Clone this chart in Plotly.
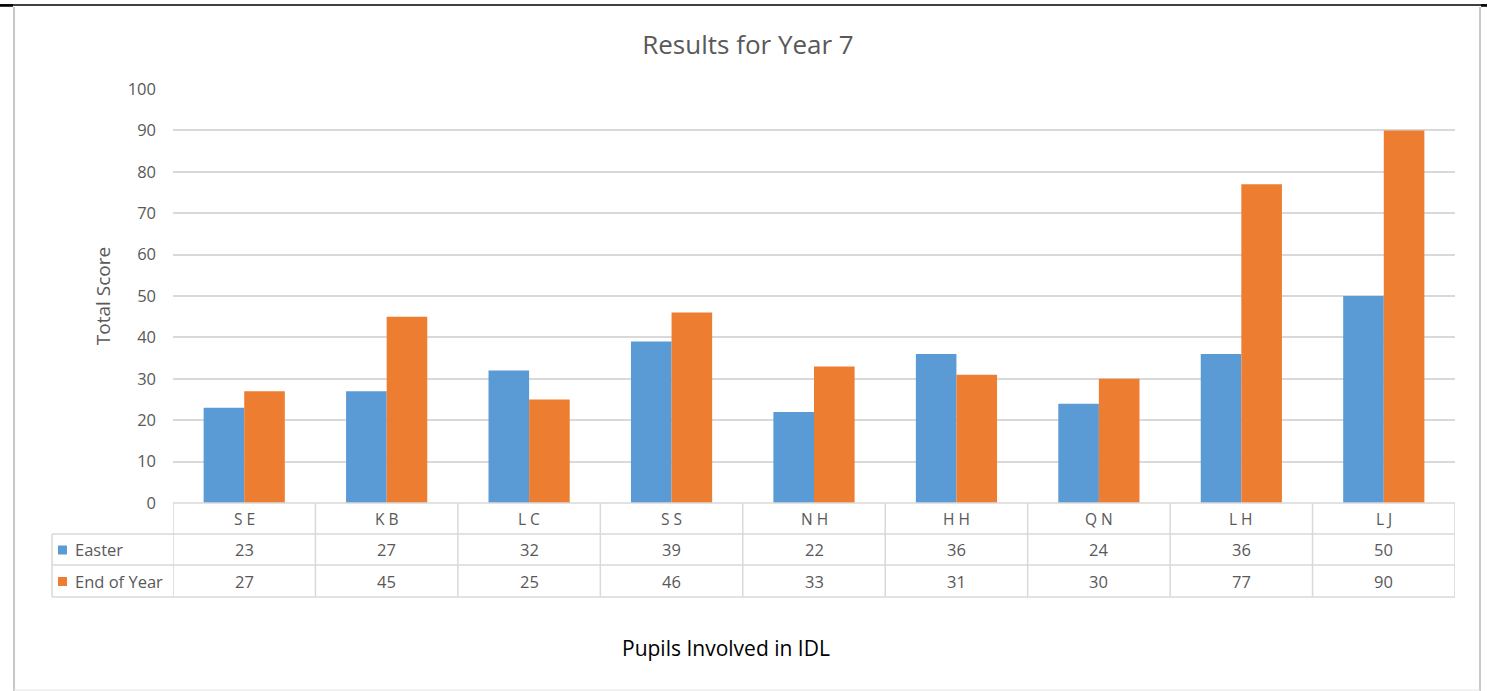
import plotly.graph_objects as go

categories = ["S E", "K B", "L C", "S S", "N H", "H H", "Q N", "L H", "L J"]
easter = [23, 27, 32, 39, 22, 36, 24, 36, 50]
end_of_year = [27, 45, 25, 46, 33, 31, 30, 77, 90]
series_names = ["Easter", "End of Year"]
y_ticks = [0, 10, 20, 30, 40, 50, 60, 70, 80, 90, 100]

BLUE = "#5B9BD5"
ORANGE = "#ED7D31"
GRID = "#D9D9D9"
TXT = "#595959"
FONT = "Open Sans"

W, H = 1487, 691
L, R, T, B = 173, 1455, 89, 503


def px(xp):
    return (xp - L) / (R - L)


def py(yp):
    return (B - yp) / (B - T)


fig = go.Figure()
fig.add_trace(go.Bar(x=list(range(len(categories))), y=easter, name=series_names[0],
                     marker=dict(color=BLUE, line=dict(width=0))))
fig.add_trace(go.Bar(x=list(range(len(categories))), y=end_of_year, name=series_names[1],
                     marker=dict(color=ORANGE, line=dict(width=0))))

shapes = []
annotations = []
n = len(categories)
row_y = [503, 534, 565, 597]
line = dict(color=GRID, width=1.5)


def ann(x, y, text, size, color=TXT, xref="paper", xanchor="center"):
    return dict(x=x, y=y, xref=xref, yref="paper", text=text, showarrow=False,
                xanchor=xanchor, yanchor="middle",
                font=dict(family=FONT, size=size, color=color))


# horizontal table lines
shapes.append(dict(type="line", xref="x", yref="paper", x0=-0.5, x1=n - 0.5,
                   y0=py(row_y[0]), y1=py(row_y[0]), line=line))
for yy in row_y[1:]:
    shapes.append(dict(type="line", xref="paper", yref="paper", x0=px(52), x1=1,
                       y0=py(yy), y1=py(yy), line=line))
# vertical table lines
for i in range(n + 1):
    shapes.append(dict(type="line", xref="x", yref="paper", x0=i - 0.5, x1=i - 0.5,
                       y0=py(row_y[0]), y1=py(row_y[3]), line=line))
shapes.append(dict(type="line", xref="paper", yref="paper", x0=px(52), x1=px(52),
                   y0=py(row_y[1]), y1=py(row_y[3]), line=line))

# category labels and values
for i, c in enumerate(categories):
    annotations.append(ann(i, py((row_y[0] + row_y[1]) / 2), c, 15.5, xref="x"))
    annotations.append(ann(i, py((row_y[1] + row_y[2]) / 2), str(easter[i]), 16.5, xref="x"))
    annotations.append(ann(i, py((row_y[2] + row_y[3]) / 2), str(end_of_year[i]), 16.5, xref="x"))

# legend keys in table
for k, (nm, col) in enumerate(zip(series_names, [BLUE, ORANGE])):
    yc = (row_y[k + 1] + row_y[k + 2]) / 2
    shapes.append(dict(type="rect", xref="paper", yref="paper", x0=px(58), x1=px(67),
                       y0=py(yc - 4), y1=py(yc + 5), fillcolor=col, line=dict(width=0)))
    annotations.append(ann(px(73), py(yc), nm, 16.5, xanchor="left"))

# x axis title
annotations.append(ann(px(726), py(648), "Pupils Involved in IDL", 21, color="#000000"))

# frame decorations
shapes.append(dict(type="line", xref="paper", yref="paper", x0=px(0), x1=px(1487),
                   y0=py(5), y1=py(5), line=dict(color="#000000", width=1.5)))
shapes.append(dict(type="line", xref="paper", yref="paper", x0=px(0), x1=px(13),
                   y0=py(5.5), y1=py(5.5), line=dict(color="#000000", width=2.5)))
shapes.append(dict(type="line", xref="paper", yref="paper", x0=px(1481), x1=px(1487),
                   y0=py(5.5), y1=py(5.5), line=dict(color="#000000", width=2.5)))
shapes.append(dict(type="line", xref="paper", yref="paper", x0=px(14), x1=px(14),
                   y0=py(7), y1=py(691), line=dict(color="#C8C8C8", width=2)))
shapes.append(dict(type="line", xref="paper", yref="paper", x0=px(1480), x1=px(1480),
                   y0=py(7), y1=py(691), line=dict(color="#C8C8C8", width=2)))
shapes.append(dict(type="line", xref="paper", yref="paper", x0=px(14), x1=px(1480),
                   y0=py(690), y1=py(690), line=dict(color="#E6E6E6", width=1)))

fig.update_layout(
    width=W, height=H,
    margin=dict(l=L, r=W - R, t=T, b=H - B),
    paper_bgcolor="white", plot_bgcolor="white",
    barmode="group", bargap=0.43, bargroupgap=0,
    showlegend=False,
    font=dict(family=FONT, color=TXT),
    title=dict(text="Results for Year 7", x=0.503, xref="container", xanchor="center",
               y=1 - 45 / H, yref="container", yanchor="middle",
               font=dict(family=FONT, size=26, color=TXT)),
    xaxis=dict(range=[-0.5, n - 0.5], showticklabels=False, showgrid=False,
               zeroline=False, showline=False, ticks=""),
    yaxis=dict(range=[0, 100], tickvals=y_ticks, showgrid=True, gridcolor=GRID, gridwidth=1.5,
               zeroline=False, showline=False, ticks="", ticklabelstandoff=16,
               tickfont=dict(family=FONT, size=16.5, color=TXT),
               title=dict(text="Total Score", standoff=12,
                          font=dict(family=FONT, size=19, color=TXT))),
    shapes=shapes, annotations=annotations,
)

fig.write_html("out.html")
